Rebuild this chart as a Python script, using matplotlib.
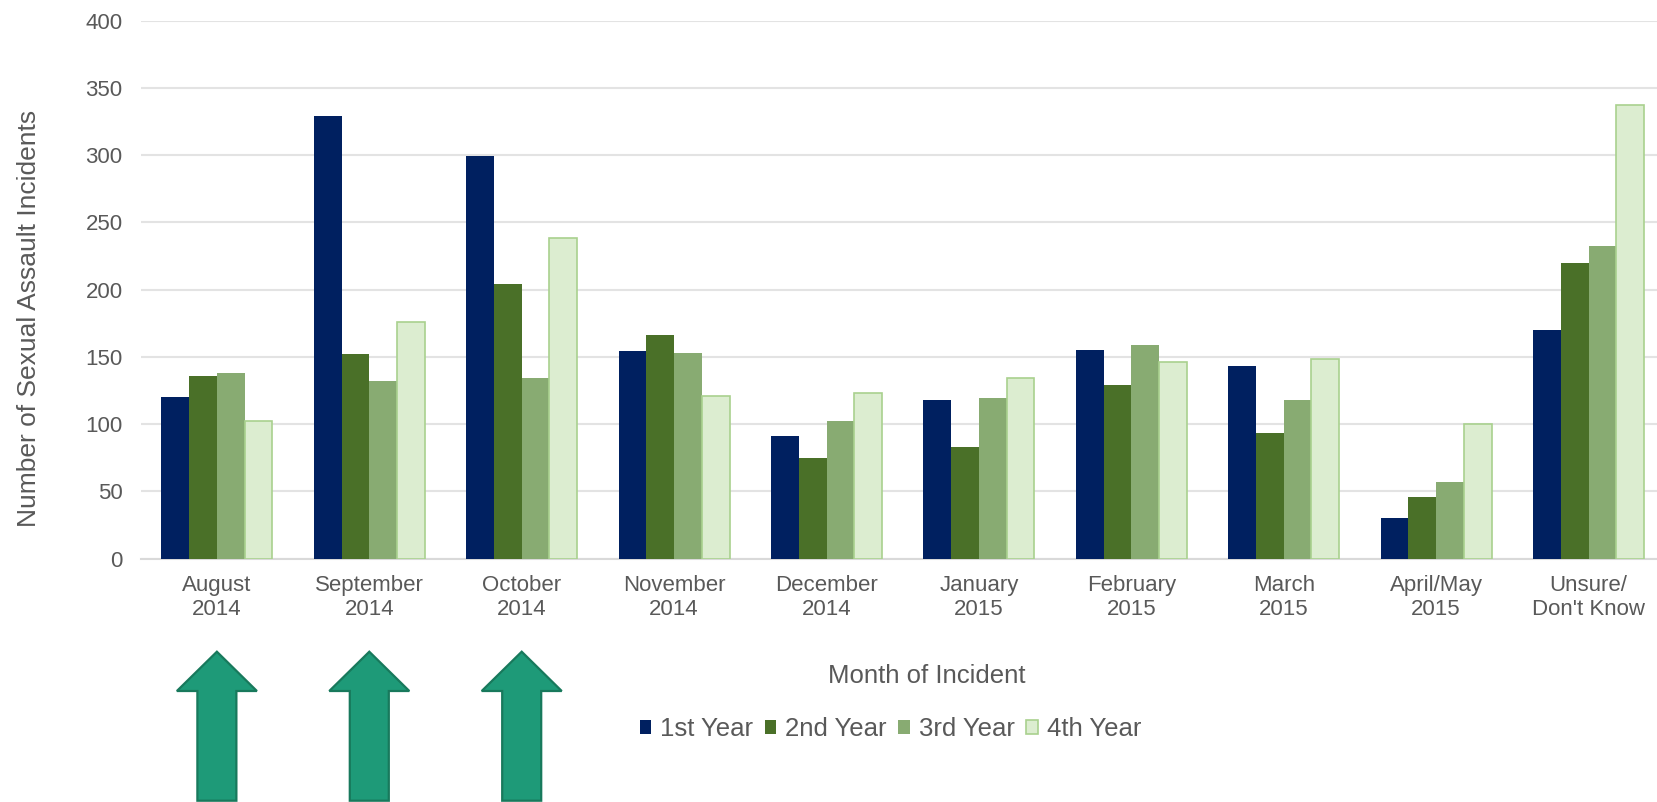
import matplotlib
matplotlib.use("Agg")
import matplotlib.pyplot as plt
import matplotlib.transforms as mtransforms
from matplotlib.patches import FancyArrow
import numpy as np

# Chart data
months = ["August\n2014", "September\n2014", "October\n2014", "November\n2014",
          "December\n2014", "January\n2015", "February\n2015", "March\n2015",
          "April/May\n2015", "Unsure/\nDon't Know"]
first_year = [120, 329, 299, 154, 91, 118, 155, 143, 30, 170]
second_year = [136, 152, 204, 166, 75, 83, 129, 93, 46, 220]
third_year = [138, 132, 134, 153, 102, 119, 159, 118, 57, 232]
fourth_year = [102, 176, 238, 121, 123, 134, 146, 148, 100, 337]
series_names = ["1st Year", "2nd Year", "3rd Year", "4th Year"]
highlighted = [0, 1, 2]  # months marked by arrows

plt.rcParams['font.family'] = ['Liberation Sans', 'DejaVu Sans']
text_grey = '#595959'

fig = plt.figure(figsize=(16.57, 8.02), dpi=100)
ax = fig.add_axes([0.0849, 0.3036, 0.9198, 0.6708])

fills = ['#002060', '#4a7028', '#88ab72', '#dcedd0']
edges = ['#002060', '#4a7028', '#88ab72', '#a9d18e']
series = [first_year, second_year, third_year, fourth_year]

x = np.arange(len(months))
w = 0.182
for k, vals in enumerate(series):
    ax.bar(x + (k - 1.5) * w, vals, width=w, color=fills[k], edgecolor=edges[k],
           linewidth=1.2 if k == 3 else 0, label=series_names[k], zorder=3)

ax.set_xlim(-0.5, len(months) - 0.5)
ax.set_ylim(0, 400)
ax.set_yticks(range(0, 401, 50))
ax.set_xticks(x)
ax.set_xticklabels(months)
ax.tick_params(axis='x', length=0, pad=12, labelsize=16, labelcolor=text_grey)
ax.tick_params(axis='y', length=0, pad=13, labelsize=16, labelcolor=text_grey)
ax.grid(axis='y', color='#e3e3e3', linewidth=1.5, zorder=0)
for side in ['top', 'right', 'left']:
    ax.spines[side].set_visible(False)
ax.spines['bottom'].set_color('#d9d9d9')
ax.spines['bottom'].set_linewidth(1.5)

fig.text(0.0175, 0.6027, "Number of Sexual Assault Incidents", rotation=90,
         ha='center', va='center', fontsize=19, color=text_grey)
fig.text(0.5594, 0.157, "Month of Incident", ha='center', va='center',
         fontsize=18.5, color=text_grey)

fig.legend(loc='center', bbox_to_anchor=(0.5374, 0.091), ncol=4, frameon=False,
           fontsize=18.5, labelcolor=text_grey, handlelength=0.45, handleheight=0.45,
           handletextpad=0.36, columnspacing=0.44)

# Arrows under the first three months
trans = mtransforms.blended_transform_factory(ax.transData, fig.transFigure)
for i in highlighted:
    arrow = FancyArrow(x[i], 0.0016, 0, 0.1858, width=0.256, head_width=0.525,
                       head_length=0.049, length_includes_head=True,
                       facecolor='#1e9a78', edgecolor='#18795c', linewidth=1.6,
                       transform=trans, clip_on=False)
    fig.add_artist(arrow)

fig.savefig("out.png", dpi=100)
